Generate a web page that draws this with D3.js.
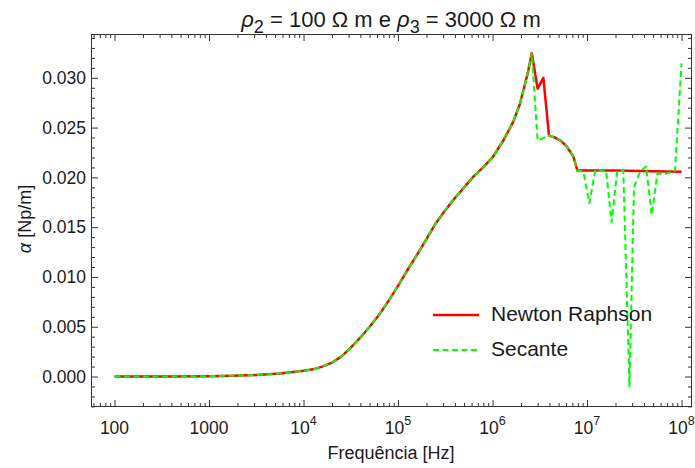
<!DOCTYPE html>
<html>
<head>
<meta charset="utf-8">
<script src="https://cdn.jsdelivr.net/npm/d3@7"></script>
<style>
  html, body { margin: 0; padding: 0; background: #fff; }
  svg { display: block; font-family: "Liberation Sans", Arial, sans-serif; }
</style>
</head>
<body>
<svg id="chart" width="695" height="468"></svg>
<script>
// Attenuation constant α versus frequency for the two root-finding methods
const freqShared = [100, 316, 1000, 1780, 3160, 5620, 1e4, 1.26e4, 1.58e4, 2.0e4, 2.51e4, 3.16e4,
  3.98e4, 5.01e4, 6.31e4, 7.94e4, 1e5, 1.26e5, 1.58e5, 2.0e5, 2.51e5, 3.16e5, 3.98e5, 5.01e5,
  6.31e5, 7.94e5, 1e6, 1.3e6, 1.66e6, 1.95e6, 2.21e6, 2.4e6, 2.6e6];
const alphaShared = [0, 0.00001, 0.00004, 0.00008, 0.00015, 0.0003, 0.00058, 0.00072, 0.001, 0.0014,
  0.002, 0.0029, 0.0039, 0.005, 0.0062, 0.0076, 0.0091, 0.0107, 0.0122, 0.0138, 0.0154, 0.0167,
  0.0179, 0.019, 0.0201, 0.021, 0.022, 0.0237, 0.0256, 0.0274, 0.0294, 0.0308, 0.0325];

// Newton Raphson, above the resonance
const freqNewtonTail = [3.0e6, 3.45e6, 3.96e6, 4.58e6, 5.25e6, 6.1e6, 7.16e6, 7.89e6, 2.0e7, 5.0e7, 1e8];
const alphaNewtonTail = [0.0289, 0.0300, 0.0242, 0.0240, 0.0237, 0.0231, 0.0221, 0.0207, 0.02068, 0.02062, 0.02056];

// Secante, above the resonance
const freqSecantTail = [3.0e6, 3.96e6, 4.58e6, 5.25e6, 6.1e6, 7.16e6, 7.89e6, 9.14e6, 1.06e7, 1.22e7,
  1.59e7, 1.82e7, 2.09e7, 2.42e7, 2.81e7, 3.14e7, 3.64e7, 4.21e7, 4.84e7, 5.55e7, 6.53e7, 8.53e7, 1e8];
const alphaSecantTail = [0.0237, 0.0242, 0.0240, 0.0237, 0.0231, 0.0221, 0.0207, 0.02056, 0.0174, 0.0207,
  0.02066, 0.0155, 0.02066, 0.02066, -0.0010, 0.0190, 0.02056, 0.0211, 0.0162, 0.0204, 0.0203, 0.02066, 0.03145];

const xMajorTicks = [100, 1000, 1e4, 1e5, 1e6, 1e7, 1e8];
const xTickBase = ["100", "1000", "10", "10", "10", "10", "10"];
const xTickExp = ["", "", "4", "5", "6", "7", "8"];
const yMajorTicks = [0, 0.005, 0.01, 0.015, 0.02, 0.025, 0.03];
const yTickLabels = ["0.000", "0.005", "0.010", "0.015", "0.020", "0.025", "0.030"];

const seriesNames = ["Newton Raphson", "Secante"];
const seriesColors = ["#ff0000", "#00ff00"];

const frame = { left: 91, right: 692, top: 34, bottom: 407 };
const svg = d3.select("#chart");

const x = d3.scaleLog().domain([56.4, 1.29e8]).range([frame.left, frame.right]);
const y = d3.scaleLinear().domain([-0.00306, 0.0344]).range([frame.bottom, frame.top]);

const toPoints = (fs, as) => fs.map((f, i) => [f, as[i]]);
const newton = toPoints(freqShared, alphaShared).concat(toPoints(freqNewtonTail, alphaNewtonTail));
const secant = toPoints(freqShared, alphaShared).concat(toPoints(freqSecantTail, alphaSecantTail));

svg.append("defs").append("clipPath").attr("id", "plotClip")
  .append("rect")
  .attr("x", frame.left).attr("y", frame.top)
  .attr("width", frame.right - frame.left).attr("height", frame.bottom - frame.top);

const line = d3.line().x(d => x(d[0])).y(d => y(d[1]));
const plot = svg.append("g").attr("clip-path", "url(#plotClip)");

plot.append("path").datum(newton)
  .attr("d", line).attr("fill", "none")
  .attr("stroke", seriesColors[0]).attr("stroke-width", 2.5)
  .attr("stroke-linejoin", "round");

plot.append("path").datum(secant)
  .attr("d", line).attr("fill", "none")
  .attr("stroke", seriesColors[1]).attr("stroke-width", 2)
  .attr("stroke-dasharray", "6,3.5")
  .attr("stroke-linejoin", "round");

// Minor tick positions
const xMinorTicks = [];
for (let k = 1; k <= 8; k++) {
  for (let m = 2; m <= 9; m++) {
    const v = m * Math.pow(10, k);
    if (v > x.domain()[0] && v < x.domain()[1]) xMinorTicks.push(v);
  }
}
const yMinorTicks = d3.range(-3, 35).map(i => i / 1000).filter(v => yMajorTicks.indexOf(v) < 0 && v > y.domain()[0]);

const frameColor = "#333";

function styleAxis(g) {
  g.select(".domain").remove();
  g.selectAll("line").attr("stroke", frameColor).attr("stroke-width", 1);
  g.selectAll("text").remove();
}

// Inward ticks on all four sides
svg.append("g").attr("transform", `translate(0,${frame.bottom})`)
  .call(d3.axisBottom(x).tickValues(xMajorTicks).tickSize(-7).tickFormat("")).call(styleAxis);
svg.append("g").attr("transform", `translate(0,${frame.bottom})`)
  .call(d3.axisBottom(x).tickValues(xMinorTicks).tickSize(-4).tickFormat("")).call(styleAxis);
svg.append("g").attr("transform", `translate(0,${frame.top})`)
  .call(d3.axisTop(x).tickValues(xMajorTicks).tickSize(-7).tickFormat("")).call(styleAxis);
svg.append("g").attr("transform", `translate(0,${frame.top})`)
  .call(d3.axisTop(x).tickValues(xMinorTicks).tickSize(-4).tickFormat("")).call(styleAxis);
svg.append("g").attr("transform", `translate(${frame.left},0)`)
  .call(d3.axisLeft(y).tickValues(yMajorTicks).tickSize(-7).tickFormat("")).call(styleAxis);
svg.append("g").attr("transform", `translate(${frame.left},0)`)
  .call(d3.axisLeft(y).tickValues(yMinorTicks).tickSize(-4).tickFormat("")).call(styleAxis);
svg.append("g").attr("transform", `translate(${frame.right},0)`)
  .call(d3.axisRight(y).tickValues(yMajorTicks).tickSize(-7).tickFormat("")).call(styleAxis);
svg.append("g").attr("transform", `translate(${frame.right},0)`)
  .call(d3.axisRight(y).tickValues(yMinorTicks).tickSize(-4).tickFormat("")).call(styleAxis);

svg.append("rect")
  .attr("x", frame.left + 0.5).attr("y", frame.top + 0.5)
  .attr("width", frame.right - frame.left - 1).attr("height", frame.bottom - frame.top - 1)
  .attr("fill", "none").attr("stroke", frameColor).attr("stroke-width", 1);

const textColor = "#1a1a1a";

// X tick labels (powers of ten with superscripts)
const xLabels = svg.append("g").attr("fill", textColor).attr("font-size", 17.5);
xMajorTicks.forEach((v, i) => {
  const t = xLabels.append("text").attr("x", x(v)).attr("y", 434).attr("text-anchor", "middle");
  t.append("tspan").text(xTickBase[i]);
  if (xTickExp[i]) t.append("tspan").attr("font-size", 12.5).attr("dy", -9).text(xTickExp[i]);
});

// Y tick labels
const yLabels = svg.append("g").attr("fill", textColor).attr("font-size", 17.5);
yMajorTicks.forEach((v, i) => {
  yLabels.append("text").attr("x", 86).attr("y", y(v)).attr("dy", "0.36em")
    .attr("text-anchor", "end").text(yTickLabels[i]);
});

// Axis titles
svg.append("text").attr("x", 391).attr("y", 459).attr("text-anchor", "middle")
  .attr("font-size", 18).attr("fill", textColor).text("Frequência [Hz]");

const yTitle = svg.append("text").attr("transform", "translate(31,219) rotate(-90)")
  .attr("text-anchor", "middle").attr("font-size", 18).attr("fill", textColor);
yTitle.append("tspan").attr("font-style", "italic").text("α");
yTitle.append("tspan").text(" [Np/m]");

// Title
const title = svg.append("text").attr("x", 391).attr("y", 27).attr("text-anchor", "middle")
  .attr("font-size", 22).attr("fill", textColor);
title.append("tspan").attr("font-style", "italic").text("ρ");
title.append("tspan").attr("font-size", 18).attr("dy", 5.5).text("2");
title.append("tspan").attr("dy", -5.5).text(" = 100 Ω m e ");
title.append("tspan").attr("font-style", "italic").text("ρ");
title.append("tspan").attr("font-size", 18).attr("dy", 5.5).text("3");
title.append("tspan").attr("dy", -5.5).text(" = 3000 Ω m");

// Legend
const legend = svg.append("g");
const legendRows = [315, 350];
seriesNames.forEach((name, i) => {
  const ly = legendRows[i];
  const l = legend.append("line").attr("x1", 433).attr("x2", 479).attr("y1", ly).attr("y2", ly)
    .attr("stroke", seriesColors[i]).attr("stroke-width", i === 0 ? 2.5 : 2);
  if (i === 1) l.attr("stroke-dasharray", "6,3.5");
  legend.append("text").attr("x", 491).attr("y", ly + 6).attr("font-size", 21)
    .attr("fill", textColor).text(name);
});
</script>
</body>
</html>
